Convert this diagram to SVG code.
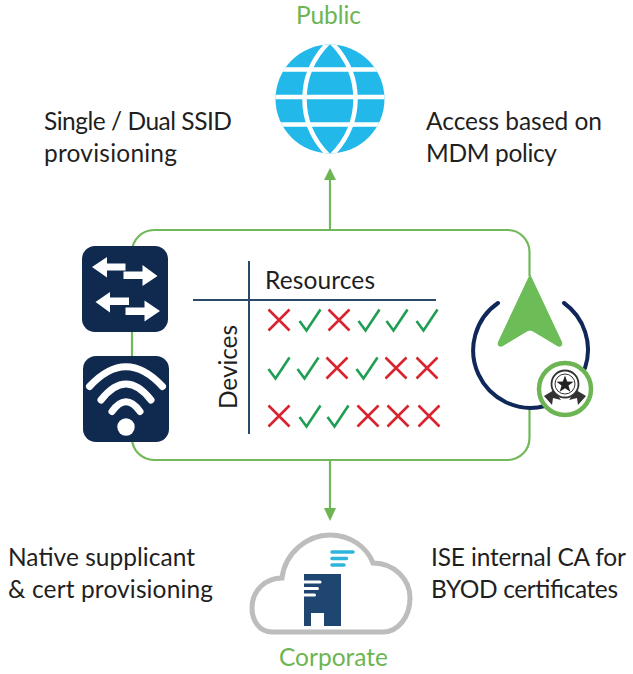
<svg xmlns="http://www.w3.org/2000/svg" width="633" height="674" viewBox="0 0 633 674">
<style>
text{font-family:"Lato","Carlito","Liberation Sans",sans-serif;font-size:24.500px;fill:#1f1f1f}
.g{fill:#6cb552}
.link{fill:none;stroke:#72b85a;stroke-width:2.2}
.box{fill:#10294f}
.w{fill:#fff}
.wifi{fill:none;stroke:#fff;stroke-linecap:round;stroke-width:7}
.x{fill:none;stroke:#d9232e;stroke-width:2.600}
.c{fill:none;stroke:#1f9e55;stroke-width:2.600}
.axis{stroke:#2b4a6b;stroke-width:2}
</style>
<defs>
<path id="x" class="x" d="M-10.500-10.500 10.500 10.500M10.500-10.500-10.500 10.500"/>
<path id="c" class="c" d="M-10.500 1-3.500 10.500 10.500-10.500"/>
<clipPath id="globeClip"><circle cx="330" cy="99" r="54.500"/></clipPath>
</defs>
<rect width="633" height="674" fill="#fff"/>
<g id="connectors">
<path class="link" d="M529.500 276V252A22 22 0 0 0 507.500 230H154A22 22 0 0 0 132 252V438A22 22 0 0 0 154 460H507.500A22 22 0 0 0 529.500 438V408"/>
<path class="link" d="M330 230V178"/>
<path class="g" d="M330 168 336 180H324Z"/>
<path class="link" d="M330 460V510"/>
<path class="g" d="M330 521 336 508H324Z"/>
</g>
<g id="public">
<text x="328.500" y="23.500" text-anchor="middle" textLength="65" style="fill:#6cb552">Public</text>
<circle cx="330" cy="99" r="54.500" fill="#22b8ea"/>
<g clip-path="url(#globeClip)" fill="none" stroke="#fff" stroke-width="4.500">
<path d="M270 69.500H390M270 97H390M270 124.500H390"/>
<path d="M330 41C296 74 296 124 330 157C364 124 364 74 330 41Z"/>
</g>
</g>
<g id="switch">
<rect class="box" x="82" y="246" width="86" height="86" rx="13"/>
<path class="w" d="M92 267 107 257V263.500H125.500V270.500H107V277.500ZM157.500 276 142.500 265V271.500H123.500V279H142.500V286ZM95.500 302 110 292V297.500H129V305H110V312.500ZM160 311 144.500 300.500V307.500H125.500V315H144.500V321.500Z"/>
</g>
<g id="wifi">
<rect class="box" x="83" y="356" width="86" height="86" rx="13"/>
<path class="wifi" d="M89.500 386.500Q126 347 162.500 386.500M101 400Q126 368 151 400M112 411.500Q126 392 140 411.500"/>
<circle class="w" cx="126" cy="427" r="8.700"/>
</g>
<g id="matrix">
<path class="axis" d="M249 261V434M193 300H436"/>
<text x="265" y="288.500" textLength="110">Resources</text>
<text transform="translate(237 409) rotate(-90)" textLength="84">Devices</text>
<use href="#x" x="279" y="320"/><use href="#c" x="310" y="320"/><use href="#x" x="339" y="320"/><use href="#c" x="369" y="320"/><use href="#c" x="397" y="320"/><use href="#c" x="427" y="320"/>
<use href="#c" x="279" y="368"/><use href="#c" x="308" y="368"/><use href="#x" x="337" y="368"/><use href="#c" x="367" y="368"/><use href="#x" x="396" y="368"/><use href="#x" x="427" y="368"/>
<use href="#x" x="279" y="416"/><use href="#c" x="310" y="416"/><use href="#c" x="338" y="416"/><use href="#x" x="368" y="416"/><use href="#x" x="398" y="416"/><use href="#x" x="429" y="416"/>
</g>
<g id="policy">
<path d="M498 303A57.500 57.500 0 0 0 545 406M564 303A57.500 57.500 0 0 1 585 368" fill="none" stroke="#10275a" stroke-width="4" stroke-linecap="round"/>
<path d="M530 275 561.500 342Q563 347 558 346L533 331Q530 329 527 331L502 346Q497 347 498.500 342Z" fill="#6cbd58" stroke="#6cbd58" stroke-width="1" stroke-linejoin="round"/>
<circle cx="565" cy="389" r="26" fill="#fff" stroke="#6cb552" stroke-width="4.500"/>
<path d="M544 396 554 390 561 400 553 398 552 405ZM586 396 576 390 569 400 577 398 578 405Z" fill="#333"/>
<circle cx="565" cy="384" r="13.500" fill="#fff" stroke="#333" stroke-width="1.800"/>
<circle cx="565" cy="384" r="10" fill="none" stroke="#333" stroke-width="1"/>
<path d="M565 375.500 567.200 381.500 573.500 381.700 568.500 385.600 570.300 391.700 565 388.200 559.700 391.700 561.500 385.600 556.500 381.700 562.800 381.500Z" fill="#222"/>
</g>
<g id="corporate">
<path d="M272 632C259 632 252 620 252 608C252 590 266 578 282 578C285 553 307 535 330 535C350 535 367 547 373 563C395 563 410 580 410 598C410 617 398 632 383 632Z" fill="#fff" stroke="#bdbdbd" stroke-width="5"/>
<path d="M304 574H341V626H324V613H311V626H304Z" fill="#1f4571"/>
<path d="M304 582H320M304 588.500H317.500M304 595H314.500" stroke="#fff" stroke-width="3" stroke-linecap="round"/>
<path d="M332 552H353M332 558.500H346.500M332 565H344" stroke="#2fb5dc" stroke-width="3.500" stroke-linecap="round"/>
<text x="333.500" y="665.500" text-anchor="middle" textLength="109" style="fill:#6cb552">Corporate</text>
</g>
<g id="labels">
<text x="44" y="129.500" textLength="188">Single / Dual SSID</text>
<text x="44" y="161.500" textLength="133">provisioning</text>
<text x="426" y="129.500" textLength="176">Access based on</text>
<text x="426" y="161.500" textLength="131">MDM policy</text>
<text x="8" y="565.500" textLength="187">Native supplicant</text>
<text x="8" y="597.500" textLength="205">&amp; cert provisioning</text>
<text x="431" y="565.500" textLength="195">ISE internal CA for</text>
<text x="431" y="597.500" textLength="187">BYOD certificates</text>
</g>
</svg>
